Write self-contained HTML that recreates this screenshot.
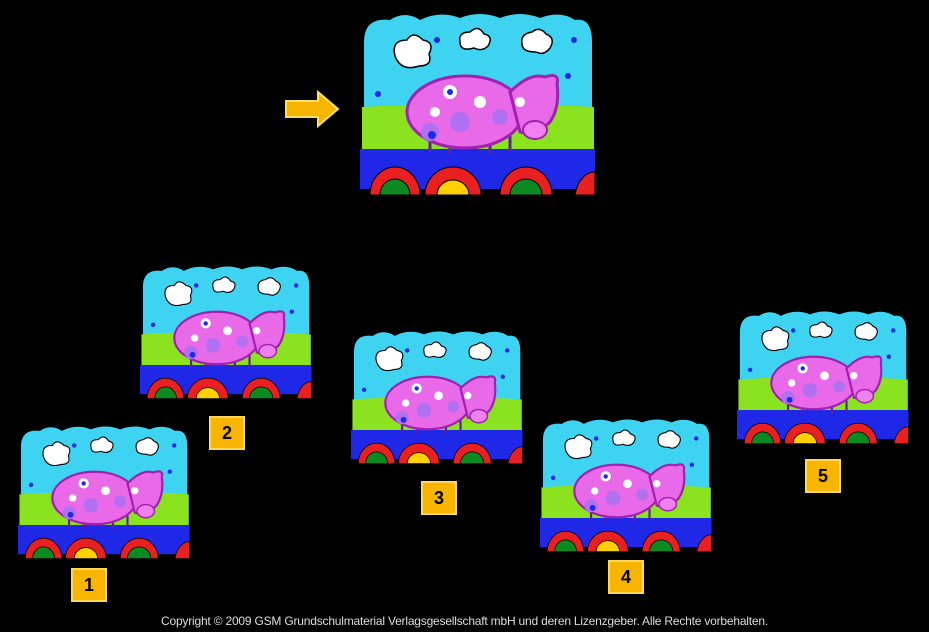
<!DOCTYPE html>
<html><head><style>
body{margin:0;background:#000;width:929px;height:632px;overflow:hidden;position:relative;font-family:"Liberation Sans",sans-serif}
svg{position:absolute;left:0;top:0}
.lab{position:absolute;width:36px;height:34px;background:#f7b500;border:2px solid #ffd85a;box-sizing:border-box;color:#000;font-weight:bold;font-size:18px;text-align:center;line-height:30px}
.copy{position:absolute;top:614px;left:0;width:929px;text-align:center;color:#ddd;font-size:12px;letter-spacing:-0.2px}
</style></head><body>
<svg width="929" height="632" viewBox="0 0 929 632">
<defs>
<g id="pic">
<path d="M4 95 L4 30 Q4 5 30 8 Q45 -2 60 8 Q80 -2 100 6 Q120 -2 140 6 Q160 -2 180 6 Q200 -2 215 8 Q232 5 232 30 L232 95 Z" fill="#3fd3f2"/>
<path d="M2 95 Q118 88 234 95 L234 138 L2 138 Z" fill="#8be21e"/>
<rect x="0" y="137" width="235" height="40" fill="#1e28e6"/>
<g stroke="#000" stroke-width="1.5">
<path d="M35 44 q-4-16 12-16 q6-10 16 0 q12 2 6 14 q4 12-10 12 q-18 6-24-10z" fill="#fff"/>
<path d="M100 30 q-2-10 10-10 q8-8 14 2 q10 2 4 12 q-6 6-14 2 q-14 4-14-6z" fill="#fff"/>
<path d="M162 32 q-2-10 10-12 q8-6 14 2 q10 4 4 14 q-6 8-14 4 q-14 0-14-8z" fill="#fff"/>
<path d="M70 125 l0 15 M90 128 l0 14 M130 128 l0 14 M150 124 l0 15" stroke="#6020a0" stroke-width="3"/>
<ellipse cx="105" cy="100" rx="58" ry="36" fill="#e86ae8" stroke="#a020b0" stroke-width="3"/>
<path d="M150 80 Q170 60 185 65 Q200 60 197 72 Q200 95 190 110 Q175 125 160 120 Z" fill="#e86ae8" stroke="#a020b0" stroke-width="3"/>
<ellipse cx="175" cy="118" rx="12" ry="9" fill="#f080f0" stroke="#a020b0" stroke-width="2"/>
</g>
<g fill="#fff"><circle cx="90" cy="80" r="7"/><circle cx="120" cy="90" r="6"/><circle cx="75" cy="100" r="5"/><circle cx="160" cy="90" r="5"/></g>
<g fill="#b070f0"><circle cx="100" cy="110" r="10"/><circle cx="70" cy="120" r="9"/><circle cx="140" cy="105" r="8"/></g>
<circle cx="90" cy="80" r="3" fill="#1e28e6"/><circle cx="72" cy="123" r="4" fill="#1e28e6"/>
<g fill="#1e28e6"><circle cx="77" cy="28" r="3"/><circle cx="214" cy="28" r="3"/><circle cx="18" cy="82" r="3"/><circle cx="208" cy="64" r="3"/></g>
<g stroke="#000" stroke-width="1">
<path d="M10 183 A25 28 0 0 1 60 183Z" fill="#e82020"/><path d="M20 183 A15 16 0 0 1 50 183Z" fill="#0a8a20"/>
<path d="M65 183 A28 28 0 0 1 121 183Z" fill="#e82020"/><path d="M77 183 A16 15 0 0 1 109 183Z" fill="#ffd000"/>
<path d="M140 183 A26 28 0 0 1 192 183Z" fill="#e82020"/><path d="M150 183 A16 16 0 0 1 182 183Z" fill="#0a8a20"/>
<path d="M215 183 A20 30 0 0 1 235 160 L235 183Z" fill="#e82020"/>
</g>
</g>
</defs>
<use href="#pic" transform="translate(360,12)"/>
<use href="#pic" transform="translate(140,265) scale(0.73)"/>
<use href="#pic" transform="translate(351,330) scale(0.73)"/>
<use href="#pic" transform="translate(18,425) scale(0.73)"/>
<use href="#pic" transform="translate(540,418) scale(0.73)"/>
<use href="#pic" transform="translate(737,310) scale(0.73)"/>
<path d="M286 101 L318 101 L318 92 L338 109 L318 126 L318 117 L286 117Z" fill="#f7b500" stroke="#ffe060" stroke-width="2"/>
</svg>
<div class="lab" style="left:71px;top:568px">1</div>
<div class="lab" style="left:209px;top:416px">2</div>
<div class="lab" style="left:421px;top:481px">3</div>
<div class="lab" style="left:608px;top:560px">4</div>
<div class="lab" style="left:805px;top:459px">5</div>
<div class="copy">Copyright © 2009 GSM Grundschulmaterial Verlagsgesellschaft mbH und deren Lizenzgeber. Alle Rechte vorbehalten.</div>
</body></html>
